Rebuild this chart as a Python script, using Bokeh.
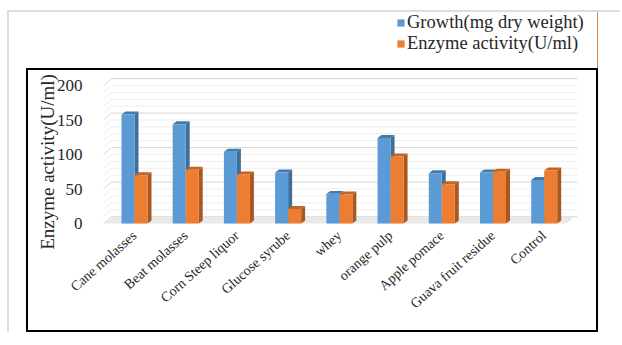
import math
from bokeh.plotting import figure
from bokeh.layouts import column
from bokeh.models import (ColumnDataSource, Legend, LegendItem, FixedTicker, Range1d)
from bokeh.embed import file_html
from bokeh.resources import INLINE

categories = ["Cane molasses", "Beat molasses", "Corn Steep liquor", "Glucose syrube",
              "whey", "orange pulp", "Apple pomace", "Guava fruit residue", "Control"]
growth = [158, 144, 104, 74, 43, 124, 73, 74, 63]
enzyme = [70, 78, 71, 21, 42, 97, 57, 75, 77]
series_names = ["Growth(mg dry weight)", "Enzyme activity(U/ml)"]
y_ticks = [0, 50, 100, 150, 200]
minor_ticks = [10, 20, 30, 40, 60, 70, 80, 90, 110, 120, 130, 140, 160, 170, 180, 190]
y_title = "Enzyme activity(U/ml)"

FONT = "Liberation Serif"
TXT = "#262626"
BLUE, BLUE_SIDE, BLUE_TOP = "#5B9BD5", "#3F6E99", "#4479AA"
ORANGE, ORANGE_SIDE, ORANGE_TOP = "#ED7D31", "#A9581F", "#C06526"

# geometry (styling constants, in axis units)
X0, X1 = -0.605, 8.65
Y0, Y1 = -36.2, 214.5
BW = 0.254              # bar width
BDX, BDY = 0.078, 4.3   # bar depth offset
WDX, WDY = 0.156, 10.0  # wall depth offset
FLOOR_R = 8.44

# ---------------- main chart (inside the black box) ----------------
p = figure(width=572, height=264, output_backend="svg", toolbar_location=None,
           x_range=Range1d(X0, X1), y_range=Range1d(Y0, Y1),
           min_border_left=75, min_border_right=23, min_border_top=5,
           min_border_bottom=86, background_fill_color="white",
           border_fill_color="white",
           styles={"border": "2px solid black", "margin-left": "17px"})
p.outline_line_color = None
p.xgrid.visible = False
p.ygrid.visible = False


def grid(vals, color):
    p.segment(x0=[X0 + WDX] * len(vals), y0=[v + WDY for v in vals],
              x1=[X1] * len(vals), y1=[v + WDY for v in vals],
              line_color=color, line_width=1)
    p.segment(x0=[X0] * len(vals), y0=vals,
              x1=[X0 + WDX] * len(vals), y1=[v + WDY for v in vals],
              line_color=color, line_width=1)


grid(minor_ticks, "#eeeeee")
grid(y_ticks, "#d6d6d6")

# floor
p.patch(x=[X0, X0 + WDX, FLOOR_R + WDX, FLOOR_R], y=[0, WDY, WDY, 0],
        fill_color="#e9e9e9", line_color=None)


def bars(vals, offset, front, side, top):
    xc = [i + offset for i in range(len(vals))]
    xl = [x - BW / 2 for x in xc]
    xr = [x + BW / 2 for x in xc]
    p.patches(xs=[[r, r + BDX, r + BDX, r] for r in xr],
              ys=[[0, BDY, v + BDY, v] for v in vals],
              fill_color=side, line_color=None)
    p.patches(xs=[[l, l + BDX, r + BDX, r] for l, r in zip(xl, xr)],
              ys=[[v, v + BDY, v + BDY, v] for v in vals],
              fill_color=top, line_color=None)
    src = ColumnDataSource(dict(x=xc, top=vals))
    return p.vbar(x="x", top="top", bottom=0, width=BW, source=src,
                  fill_color=front, line_color=None)


bars(growth, -BW / 2, BLUE, BLUE_SIDE, BLUE_TOP)
bars(enzyme, BW / 2, ORANGE, ORANGE_SIDE, ORANGE_TOP)

p.yaxis.ticker = FixedTicker(ticks=y_ticks)
p.yaxis.axis_line_color = None
p.yaxis.major_tick_line_color = None
p.yaxis.minor_tick_line_color = None
p.yaxis.major_label_standoff = 15
p.yaxis.major_label_text_font = FONT
p.yaxis.major_label_text_font_size = "17px"
p.yaxis.major_label_text_color = TXT
p.yaxis.axis_label = y_title
p.yaxis.axis_label_text_font = FONT
p.yaxis.axis_label_text_font_size = "19px"
p.yaxis.axis_label_text_font_style = "normal"
p.yaxis.axis_label_text_color = TXT
p.yaxis.axis_label_standoff = -4

p.xaxis.ticker = FixedTicker(ticks=list(range(len(categories))))
p.xaxis.major_label_overrides = {i: c for i, c in enumerate(categories)}
p.xaxis.major_label_orientation = 0.73
p.xaxis.axis_line_color = None
p.xaxis.major_tick_line_color = None
p.xaxis.minor_tick_line_color = None
p.xaxis.major_label_standoff = -21
p.xaxis.major_label_text_font = FONT
p.xaxis.major_label_text_font_size = "14px"
p.xaxis.major_label_text_color = TXT

# ---------------- legend strip (above the black box) ----------------
lg = figure(width=611, height=56, output_backend="svg", toolbar_location=None,
            x_axis_type=None, y_axis_type=None, x_range=Range1d(-100, -99),
            y_range=Range1d(0, 1), min_border=0, background_fill_color="white",
            border_fill_color="white")
lg.outline_line_color = None
lg.xgrid.visible = False
lg.ygrid.visible = False
idx = list(range(len(categories)))
lr_g = lg.vbar(x=idx, top=growth, width=0.1, fill_color=BLUE, line_color=None)
lr_e = lg.vbar(x=idx, top=enzyme, width=0.1, fill_color=ORANGE, line_color=None)
legend = Legend(items=[LegendItem(label=series_names[0], renderers=[lr_g]),
                       LegendItem(label=series_names[1], renderers=[lr_e])],
                location=(312, 14), glyph_width=9, glyph_height=9,
                label_text_font=FONT, label_text_font_size="18.5px",
                label_text_color=TXT, padding=0, margin=0, spacing=0,
                label_standoff=2, label_height=20, border_line_color=None,
                background_fill_alpha=0)
lg.add_layout(legend)

root = column(lg, p, spacing=0,
              styles={"margin-left": "7px", "margin-top": "10px",
                      "border-left": "2px solid #dedede",
                      "border-top": "2px solid #dedede"})

open("out.html", "w").write(file_html(root, INLINE))
